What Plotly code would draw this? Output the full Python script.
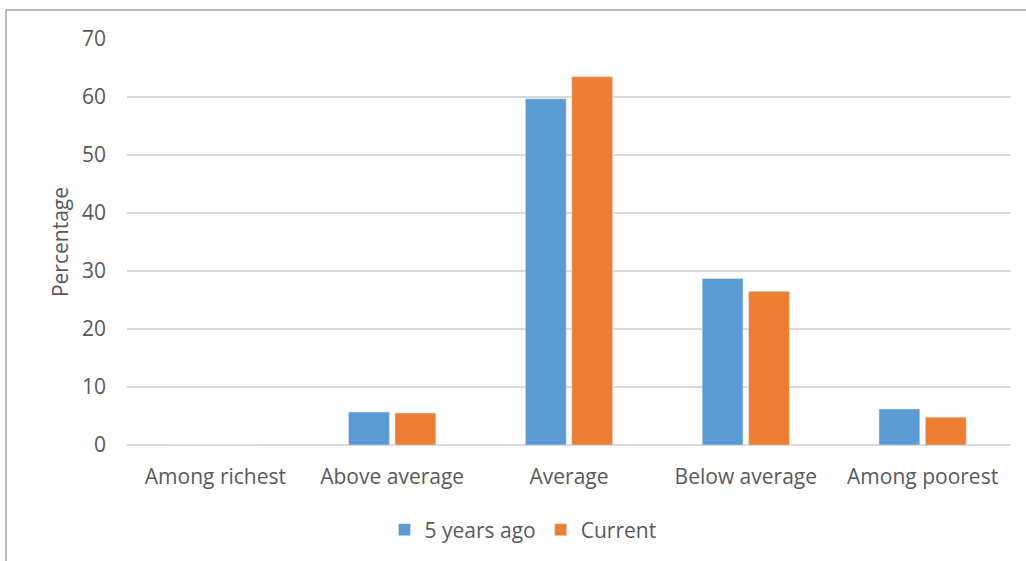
import plotly.graph_objects as go

categories = ["Among richest", "Above average", "Average", "Below average", "Among poorest"]
five_years_ago = [0, 5.7, 59.7, 28.7, 6.2]
current = [0, 5.5, 63.5, 26.5, 4.8]
y_ticks = [0, 10, 20, 30, 40, 50, 60, 70]

FONT = "'Open Sans', sans-serif"
TXT = "#595959"
FS = 21

fig = go.Figure()
fig.add_trace(go.Bar(name="5 years ago", x=categories, y=five_years_ago, marker_color="#5b9bd5"))
fig.add_trace(go.Bar(name="Current", x=categories, y=current, marker_color="#ed7d31"))

W, H = 1026, 561
L, R, T, B = 127, 15, 39, 115
pw, ph = W - L - R, H - T - B
axis_y = H - B

fig.update_layout(
    width=W, height=H,
    margin=dict(l=L, r=R, t=T, b=B, pad=0),
    paper_bgcolor="white", plot_bgcolor="white",
    barmode="group", bargap=0.475, bargroupgap=0.12,
    font=dict(family=FONT, color=TXT, size=FS),
    showlegend=True,
    legend=dict(orientation="h", x=(523 - L) / pw, xanchor="center", y=-(530 - axis_y) / ph,
                yanchor="middle", font=dict(size=FS, color=TXT), itemwidth=30,
                traceorder="normal"),
    shapes=[dict(type="rect", xref="paper", yref="paper",
                 x0=(6 - L) / pw, x1=(1100 - L) / pw, y0=-(700 - axis_y) / ph, y1=(axis_y - 10) / ph,
                 line=dict(color="#a6a6a6", width=1.5), fillcolor="rgba(0,0,0,0)", layer="below")],
)
fig.update_xaxes(showgrid=False, showline=False, ticks="", ticklabelstandoff=17,
                 tickfont=dict(size=FS, color=TXT))
fig.update_yaxes(range=[0, 70], tickvals=y_ticks, showgrid=True, gridcolor="#d9d9d9", gridwidth=1.5,
                 zeroline=True, zerolinecolor="#d9d9d9", zerolinewidth=1.5, showline=False,
                 ticks="", ticklabelstandoff=20, tickfont=dict(size=FS, color=TXT),
                 title=dict(text="Percentage", font=dict(size=FS, color=TXT), standoff=7))

fig.write_html("out.html", config={"displayModeBar": False},
               post_script="document.body.style.margin='0';")
